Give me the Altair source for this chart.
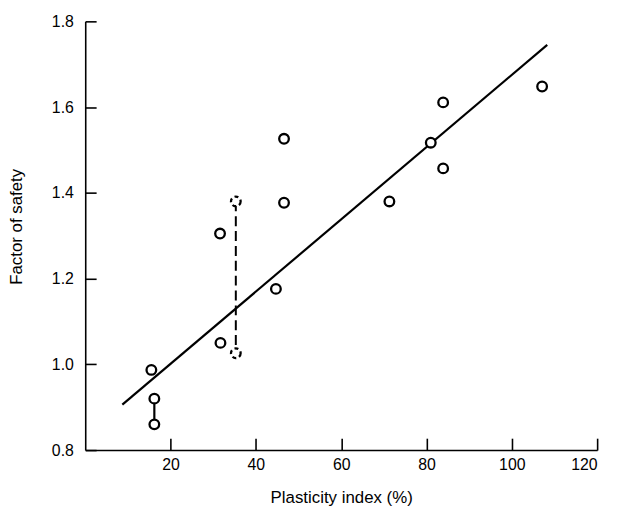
import altair as alt
import pandas as pd

# Data
pi_x = [15.5, 16.2, 16.2, 31.6, 31.7, 44.7, 46.6, 46.6, 71.3, 81.0, 83.9, 83.9, 107.1]
fos = [0.987, 0.920, 0.860, 1.305, 1.050, 1.176, 1.526, 1.377, 1.380, 1.517, 1.611, 1.457, 1.648]

dash_x = [35.3, 35.3]
dash_y = [1.380, 1.026]

pair_x = [16.2, 16.2]
pair_y = [0.920, 0.860]

fit_x = [8.7, 108.3]
fit_y = [0.906, 1.745]

x_ticks = [20, 40, 60, 80, 100, 120]
y_ticks = [0.8, 1.0, 1.2, 1.4, 1.6, 1.8]

W, H = 517, 433
FONT = "Liberation Sans"

pts = pd.DataFrame({"x": pi_x, "y": fos})
dash_df = pd.DataFrame({"x": dash_x, "y": dash_y})
pair_df = pd.DataFrame({"x": pair_x, "y": pair_y})
fit_df = pd.DataFrame({"x": fit_x, "y": fit_y})

xs = alt.Scale(domain=[0, 120], nice=False, zero=False)
ys = alt.Scale(domain=[0.8, 1.8], nice=False, zero=False)

# Label axes (no ticks)
x_lab_axis = alt.Axis(orient="bottom", values=x_ticks, ticks=False, tickSize=0, grid=False,
                      labelPadding=7, labelFontSize=16, labelFont=FONT, labelColor="black",
                      title="Plasticity index (%)", titleFont=FONT, titleFontSize=17,
                      titleFontWeight="normal", titleColor="black", titlePadding=17,
                      domainColor="black", domainWidth=1.6)
y_lab_axis = alt.Axis(orient="left", values=y_ticks, format=".1f", ticks=False, tickSize=0,
                      grid=False, labelPadding=12, labelFontSize=16, labelFont=FONT,
                      labelColor="black", title="Factor of safety", titleFont=FONT,
                      titleFontSize=17, titleFontWeight="normal", titleColor="black",
                      titleX=-60, titleY=207, titleAngle=-90,
                      domainColor="black", domainWidth=1.6)

# Tick-only axes drawn inward
x_tick_axis = alt.Axis(orient="top", offset=-H, values=x_ticks, labels=False, domain=False,
                       ticks=True, tickSize=12, tickColor="black", tickWidth=1.6,
                       grid=False, title=None)
y_tick_axis = alt.Axis(orient="right", offset=-W, values=y_ticks, labels=False, domain=False,
                       ticks=True, tickSize=11, tickColor="black", tickWidth=1.6,
                       grid=False, title=None)

fit = alt.Chart(fit_df).mark_line(color="black", strokeWidth=2.2).encode(
    x=alt.X("x:Q", scale=xs, axis=x_tick_axis),
    y=alt.Y("y:Q", scale=ys, axis=y_tick_axis),
)

dash_line = alt.Chart(dash_df).mark_line(color="black", strokeWidth=2, strokeDash=[10, 5]).encode(
    x=alt.X("x:Q", scale=xs, axis=None),
    y=alt.Y("y:Q", scale=ys, axis=None),
)

pair_line = alt.Chart(pair_df).mark_line(color="black", strokeWidth=2.2).encode(
    x=alt.X("x:Q", scale=xs, axis=None),
    y=alt.Y("y:Q", scale=ys, axis=None),
)

circles = alt.Chart(pts).mark_point(shape="circle", filled=True, fill="white", stroke="black",
                                     strokeWidth=2.3, size=95, opacity=1).encode(
    x=alt.X("x:Q", scale=xs, axis=x_lab_axis),
    y=alt.Y("y:Q", scale=ys, axis=y_lab_axis),
)

dash_circles = alt.Chart(dash_df).mark_point(shape="circle", filled=True, fill="white",
                                             stroke="black", strokeWidth=2.3, size=95, opacity=1,
                                             strokeDash=[4, 3]).encode(
    x=alt.X("x:Q", scale=xs, axis=None),
    y=alt.Y("y:Q", scale=ys, axis=None),
)

chart = alt.layer(fit, dash_line, pair_line, circles, dash_circles).resolve_axis(
    x="independent", y="independent"
).properties(
    width=W, height=H,
    autosize=alt.AutoSizeParams(type="none"),
    padding={"left": 78, "top": 11, "right": 14, "bottom": 55},
    background="white",
).configure_view(stroke=None)

chart.save("out.html", embed_options={"renderer": "svg", "actions": False})
